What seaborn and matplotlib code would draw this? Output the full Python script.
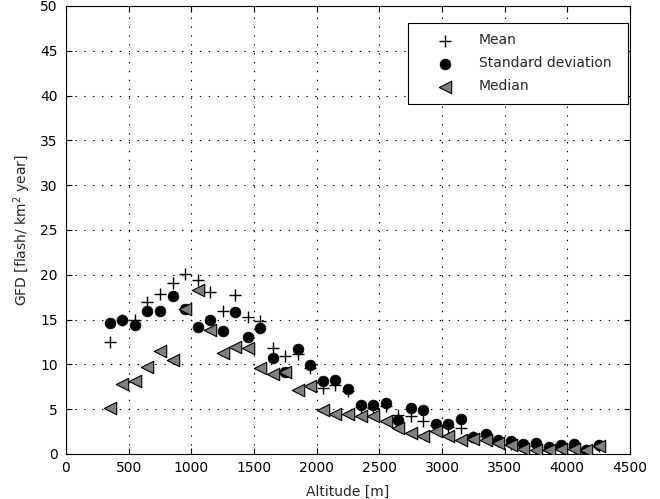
import numpy as np
import pandas as pd
import matplotlib
matplotlib.use("Agg")
import matplotlib.pyplot as plt
import seaborn as sns

altitude = [350, 450, 550, 650, 750, 850, 950, 1050, 1150, 1250,
            1350, 1450, 1550, 1650, 1750, 1850, 1950, 2050, 2150, 2250,
            2350, 2450, 2550, 2650, 2750, 2850, 2950, 3050, 3150, 3250,
            3350, 3450, 3550, 3650, 3750, 3850, 3950, 4050, 4150, 4250]
mean_vals = [12.5, 15.0, 15.0, 17.0, 17.9, 19.1, 20.1, 19.4, 18.1, 16.0,
             17.7, 15.3, 14.8, 11.8, 10.9, 11.2, 9.6, 7.4, 7.7, 7.0,
             5.3, 5.1, 5.4, 4.3, 4.2, 3.7, 3.2, 3.0, 2.9, 1.9,
             2.0, 1.5, 1.1, 1.0, 0.9, 0.6, 0.8, 0.8, 0.5, 0.9]
std_vals = [14.6, 14.9, 14.4, 16.0, 16.0, 17.6, 16.2, 14.2, 14.9, 13.7,
            15.8, 13.1, 14.1, 10.7, 9.2, 11.7, 9.9, 8.2, 8.3, 7.2,
            5.5, 5.5, 5.7, 3.8, 5.1, 4.9, 3.3, 3.3, 3.9, 1.9,
            2.2, 1.6, 1.4, 1.1, 1.2, 0.8, 1.0, 1.1, 0.4, 1.0]
median_vals = [5.1, 7.8, 8.2, 9.7, 11.5, 10.5, 16.2, 18.3, 13.8, 11.3,
               11.9, 11.8, 9.6, 8.9, 9.1, 7.1, 7.6, 4.9, 4.5, 4.5,
               4.2, 4.2, 3.7, 2.9, 2.3, 2.0, 2.6, 2.0, 1.6, 1.7,
               1.6, 1.2, 1.0, 0.6, 0.5, 0.4, 0.6, 0.6, 0.5, 0.9]

df = pd.DataFrame({"alt": altitude, "mean": mean_vals,
                   "std": std_vals, "median": median_vals})

sns.set_style("ticks")
plt.rcParams['font.family'] = ['DejaVu Sans']
plt.rcParams['font.size'] = 10
plt.rcParams['mathtext.fontset'] = 'dejavusans'

fig = plt.figure(figsize=(6.6, 4.99), dpi=100)
ax = fig.add_axes([0.1, 0.0902, 0.8545, 0.8978])

sns.scatterplot(data=df, x="alt", y="mean", marker="+", s=70, color="black",
                linewidth=1.0, label="Mean", ax=ax, zorder=3)
sns.scatterplot(data=df, x="alt", y="std", marker="o", s=60, color="black",
                edgecolor="black", linewidth=0.5, label="Standard deviation",
                ax=ax, zorder=3)
sns.scatterplot(data=df, x="alt", y="median", marker="<", s=80, color="#808080",
                edgecolor="black", linewidth=0.8, label="Median", ax=ax, zorder=3)

ax.set_xlim(0, 4500)
ax.set_ylim(0, 50)
ax.set_xticks(np.arange(0, 4501, 500))
ax.set_yticks(np.arange(0, 51, 5))
ax.grid(True, linestyle=(0, (1.25, 6.75)), color="black", linewidth=0.8)
ax.tick_params(direction="in", top=True, right=True, length=4, width=0.8,
               labelsize=10, colors="black")
ax.tick_params(axis="x", pad=5)
ax.tick_params(axis="y", pad=6)
for sp in ax.spines.values():
    sp.set_visible(True)
    sp.set_linewidth(0.8)
    sp.set_color("black")
ax.set_xlabel("Altitude [m]", fontsize=10, labelpad=7)
ax.set_ylabel(r"GFD [flash/ km$^2$ year]", fontsize=10, labelpad=5)

leg = ax.legend(loc="upper left", bbox_to_anchor=(0.6064, 0.790, 0.390, 0.172),
                mode="expand", frameon=True, fancybox=False, fontsize=10,
                edgecolor="black", framealpha=1, borderpad=0.75,
                handletextpad=0.55, labelspacing=0.65, borderaxespad=0,
                handlelength=3.8)
leg.get_frame().set_linewidth(0.8)

fig.savefig("out.png", dpi=100)
